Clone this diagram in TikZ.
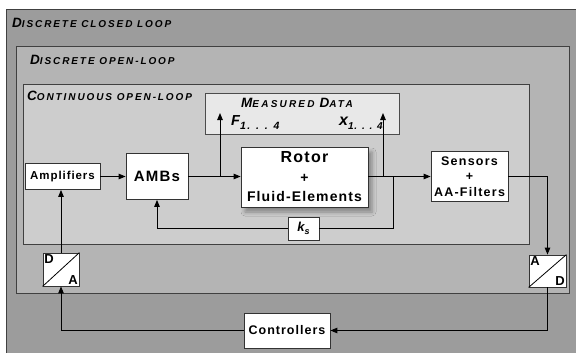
\documentclass[tikz,border=0pt]{standalone}
\usepackage{fontspec}
\setmainfont{Liberation Sans}[LetterSpace=8]
\usetikzlibrary{arrows.meta,shadows.blur}
\definecolor{gA}{RGB}{156,156,156}
\definecolor{gB}{RGB}{180,180,180}
\definecolor{gC}{RGB}{205,205,205}
\definecolor{gD}{RGB}{232,232,232}
\newcommand\BigL[1]{{\fontsize{13.5}{14}\selectfont #1}}
\newcommand\SmlL[1]{{\fontsize{10}{12}\selectfont #1}}
\newcommand\WideLS{\addfontfeature{LetterSpace=19}}
\begin{document}
\begin{tikzpicture}[x=1pt,y=-1pt,
  box/.style={draw=black!80, line width=0.8pt, fill=white, inner sep=0pt, align=center, font=\bfseries},
  arr/.style={-{Triangle[length=7pt,width=5.5pt]}, line width=0.9pt},
  ln/.style={line width=0.9pt},
  frame/.style={draw=black!75, line width=0.9pt},
  lbl/.style={anchor=base west, inner sep=0pt, font=\bfseries\itshape}]
\useasboundingbox (0,0) rectangle (576,353);
\clip (0,0) rectangle (576,353);
\fill[white] (0,0) rectangle (576,353);
% frames
\filldraw[fill=gA, frame] (6,9) rectangle (600,380);
\filldraw[fill=gB, frame] (16,46) rectangle (569,293);
\filldraw[fill=gC, frame] (23,84) rectangle (529,244);
\node[lbl] (l1) at (12,28) {\WideLS\BigL{D}\SmlL{ISCRETE CLOSED LOOP}};
\node[lbl] (l2) at (30,65) {\WideLS\BigL{D}\SmlL{ISCRETE OPEN-LOOP}};
\node[lbl] (l3) at (27,101) {\WideLS\BigL{C}\SmlL{ONTINUOUS OPEN-LOOP}};
% measured data
\node[draw=black!70, line width=0.8pt, fill=gD, minimum width=194, minimum height=41, inner sep=0pt] (meas) at (302,113.5) {};
\node[anchor=base, inner sep=0pt, font=\bfseries\itshape] (mtitle) at (297,107) {\addfontfeature{LetterSpace=22}\BigL{M}\SmlL{EASURED} \BigL{D}\SmlL{ATA}};
\node[lbl] (fl) at (231,125) {{\fontsize{14.5}{16}\selectfont F}\raisebox{-4pt}{\fontsize{10.5}{12}\selectfont\addfontfeature{LetterSpace=14} 1. . . 4}};
\node[lbl] (xl) at (339,125) {{\fontsize{16}{16}\selectfont x}\raisebox{-4pt}{\fontsize{10}{12}\selectfont 1. . . 4}};
% blocks
\node[box, minimum width=75, minimum height=26, font=\bfseries\fontsize{11.5}{13}\selectfont] (amp) at (62.5,176.5) {Amplifiers};
\node[box, minimum width=62, minimum height=46, font=\bfseries\fontsize{15}{16}\selectfont] (amb) at (157,176.5) {AMBs};
\node[box, minimum width=127, minimum height=60, font=\bfseries\fontsize{14}{19.5}\selectfont,
  blur shadow={shadow xshift=4pt, shadow yshift=-5pt, shadow blur radius=4pt, shadow opacity=35}] (rotor) at (304.5,177)
  {{\fontsize{16}{19.5}\selectfont Rotor}\\+\\Fluid-Elements};
\node[box, minimum width=31, minimum height=23, font=\bfseries\itshape\fontsize{13}{14}\selectfont] (ks) at (303.5,228.5) {k\raisebox{-3pt}{\fontsize{9}{10}\selectfont s}};
\node[box, minimum width=77, minimum height=50, font=\bfseries\fontsize{12.5}{15.5}\selectfont\addfontfeature{LetterSpace=10}] (sens) at (469.5,176.5)
  {Sensors\\+\\AA-Filters};
\node[box, minimum width=37, minimum height=32] (ad) at (547.5,271) {};
\draw[line width=0.8pt] (ad.south west) -- (ad.north east);
\node[anchor=north west, inner sep=1.5pt, font=\bfseries\fontsize{13}{14}\selectfont] (adA) at (ad.north west) {A};
\node[anchor=south east, inner sep=1.5pt, font=\bfseries\fontsize{13}{14}\selectfont] (adD) at (ad.south east) {D};
\node[box, minimum width=36, minimum height=33] (da) at (61,269.5) {};
\draw[line width=0.8pt] (da.south west) -- (da.north east);
\node[anchor=north west, inner sep=1.5pt, font=\bfseries\fontsize{13}{14}\selectfont] (daD) at (da.north west) {D};
\node[anchor=south east, inner sep=1.5pt, font=\bfseries\fontsize{13}{14}\selectfont] (daA) at (da.south east) {A};
\node[box, minimum width=86, minimum height=35, font=\bfseries\fontsize{12.5}{13}\selectfont] (ctrl) at (287,330.5) {Controllers};
% connectors
\coordinate (bF) at (220,176.5);
\coordinate (bX) at (383,176.5);
\coordinate (bK) at (393,176.5);
\coordinate (tF) at (220,113);
\coordinate (tX) at (383,113);
\draw[arr] (amp.east) -- (amb.west);
\draw[arr] (amb.east) -- (amb.east -| rotor.west);
\draw[arr] (bF) -- (tF);
\draw[ln] (rotor.east |- sens.west) -- (bK);
\draw[arr] (bK) -- (sens.west);
\draw[arr] (bX) -- (tX);
\draw[ln] (bK) |- (ks.east);
\draw[arr] (ks.west) -| (amb.south);
\draw[arr] (sens.east) -| (ad.north);
\draw[arr] (ad.south) |- (ctrl.east);
\draw[arr] (ctrl.west) -| (da.south);
\draw[arr] (da.north) -- (da.north |- amp.south);
\end{tikzpicture}
\end{document}
